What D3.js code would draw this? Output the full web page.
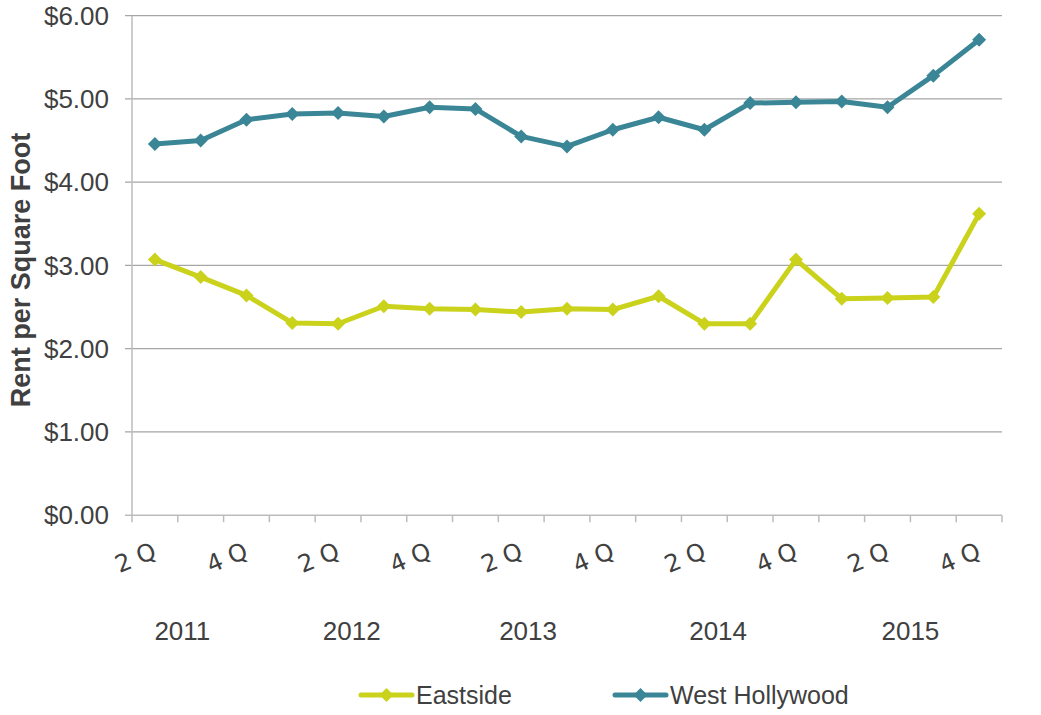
<!DOCTYPE html>
<html>
<head>
<meta charset="utf-8">
<script src="https://cdn.jsdelivr.net/npm/d3@7"></script>
<style>
  body { margin: 0; background: #fff; }
  text { font-family: "Liberation Sans", Arial, sans-serif; fill: #404040; }
</style>
</head>
<body>
<div id="canvas"></div>
<script>
// data
var quarters = ["2Q11","3Q11","4Q11","1Q12","2Q12","3Q12","4Q12","1Q13","2Q13","3Q13","4Q13",
                "1Q14","2Q14","3Q14","4Q14","1Q15","2Q15","3Q15","4Q15"];
var quarterLabels = ["2 Q","","4 Q","","2 Q","","4 Q","","2 Q","","4 Q","","2 Q","","4 Q","","2 Q","","4 Q"];
var years = ["2011","2012","2013","2014","2015"];
var eastside = [3.07,2.86,2.64,2.31,2.30,2.51,2.48,2.47,2.44,2.48,2.47,2.63,2.30,2.30,3.07,2.60,2.61,2.62,3.62];
var westHollywood = [4.46,4.50,4.75,4.82,4.83,4.79,4.90,4.88,4.55,4.43,4.63,4.78,4.63,4.95,4.96,4.97,4.90,5.28,5.71];
var yTicks = [0,1,2,3,4,5,6];

// layout
var w = 1041, h = 715;
var plotLeft = 132, plotRight = 1002, plotTop = 15.7, plotBottom = 515.2;
var yearPos = [1.1, 4.8, 8.65, 12.8, 17.0]; // label centres in category units
var teal = "#3a8696", lime = "#cad21c";

var svg = d3.select("#canvas").append("svg").attr("width", w).attr("height", h);

var x = d3.scaleBand().domain(d3.range(quarters.length)).range([plotLeft, plotRight]);
var xc = function(i) { return x(i) + x.bandwidth() / 2; };
var xu = d3.scaleLinear().domain([0, quarters.length]).range([plotLeft, plotRight]);
var y = d3.scaleLinear().domain([0, 6]).range([plotBottom, plotTop]);

// gridlines
svg.append("g").selectAll("line").data(yTicks.slice(1)).enter().append("line")
    .attr("x1", plotLeft - 7).attr("x2", plotRight)
    .attr("y1", function(d) { return y(d); }).attr("y2", function(d) { return y(d); })
    .style("stroke", "#a6a6a6").style("stroke-width", 1.3);

// y axis
svg.append("line").attr("x1", plotLeft).attr("x2", plotLeft).attr("y1", plotTop).attr("y2", plotBottom)
    .style("stroke", "#bcbcbc").style("stroke-width", 1.5);
svg.append("g").selectAll("text").data(yTicks).enter().append("text")
    .attr("x", 109).attr("y", function(d) { return y(d); }).attr("dy", "0.35em")
    .attr("text-anchor", "end").style("font-size", "26px")
    .text(function(d) { return "$" + d.toFixed(2); });

// x axis
svg.append("line").attr("x1", plotLeft - 7).attr("x2", plotRight).attr("y1", plotBottom).attr("y2", plotBottom)
    .style("stroke", "#bcbcbc").style("stroke-width", 1.5);
svg.append("g").selectAll("line").data(d3.range(quarters.length + 1)).enter().append("line")
    .attr("x1", function(d) { return xu(d); }).attr("x2", function(d) { return xu(d); })
    .attr("y1", plotBottom).attr("y2", plotBottom + 7)
    .style("stroke", "#bcbcbc").style("stroke-width", 1.5);

svg.append("g").selectAll("text").data(quarterLabels).enter().append("text")
    .attr("transform", function(d, i) { return "translate(" + (xc(i) + 3) + ",557) rotate(-23)"; })
    .attr("text-anchor", "end").style("font-size", "24px")
    .style("font-family", "'DejaVu Sans', sans-serif")
    .text(function(d) { return d; });

svg.append("g").selectAll("text").data(years).enter().append("text")
    .attr("x", function(d, i) { return xu(yearPos[i]); }).attr("y", 640)
    .attr("text-anchor", "middle").style("font-size", "26px")
    .text(function(d) { return d; });

// axis title
svg.append("text").attr("transform", "translate(30,270) rotate(-90)")
    .attr("text-anchor", "middle").style("font-size", "27px").style("font-weight", "bold")
    .text("Rent per Square Foot");

// series
function diamond(r) { return "M0," + (-r) + "L" + r + ",0L0," + r + "L" + (-r) + ",0Z"; }

function drawSeries(vals, colour) {
  var line = d3.line().x(function(d, i) { return xc(i); }).y(function(d) { return y(d); });
  svg.append("path").datum(vals).attr("d", line)
      .style("fill", "none").style("stroke", colour).style("stroke-width", 5)
      .style("stroke-linejoin", "round");
  svg.append("g").selectAll("path").data(vals).enter().append("path")
      .attr("transform", function(d, i) { return "translate(" + xc(i) + "," + y(d) + ")"; })
      .attr("d", diamond(7)).style("fill", colour);
}
drawSeries(eastside, lime);
drawSeries(westHollywood, teal);

// legend
var legend = [["Eastside", lime, 361], ["West Hollywood", teal, 615]];
legend.forEach(function(l) {
  var g = svg.append("g").attr("transform", "translate(" + l[2] + ",695)");
  g.append("line").attr("x1", 0).attr("x2", 51).style("stroke", l[1]).style("stroke-width", 5)
      .style("stroke-linecap", "round");
  g.append("path").attr("transform", "translate(25.5,0)").attr("d", diamond(7)).style("fill", l[1]);
  g.append("text").attr("x", 55).attr("y", 8.5).style("font-size", "25px").text(l[0]);
});
</script>
</body>
</html>
